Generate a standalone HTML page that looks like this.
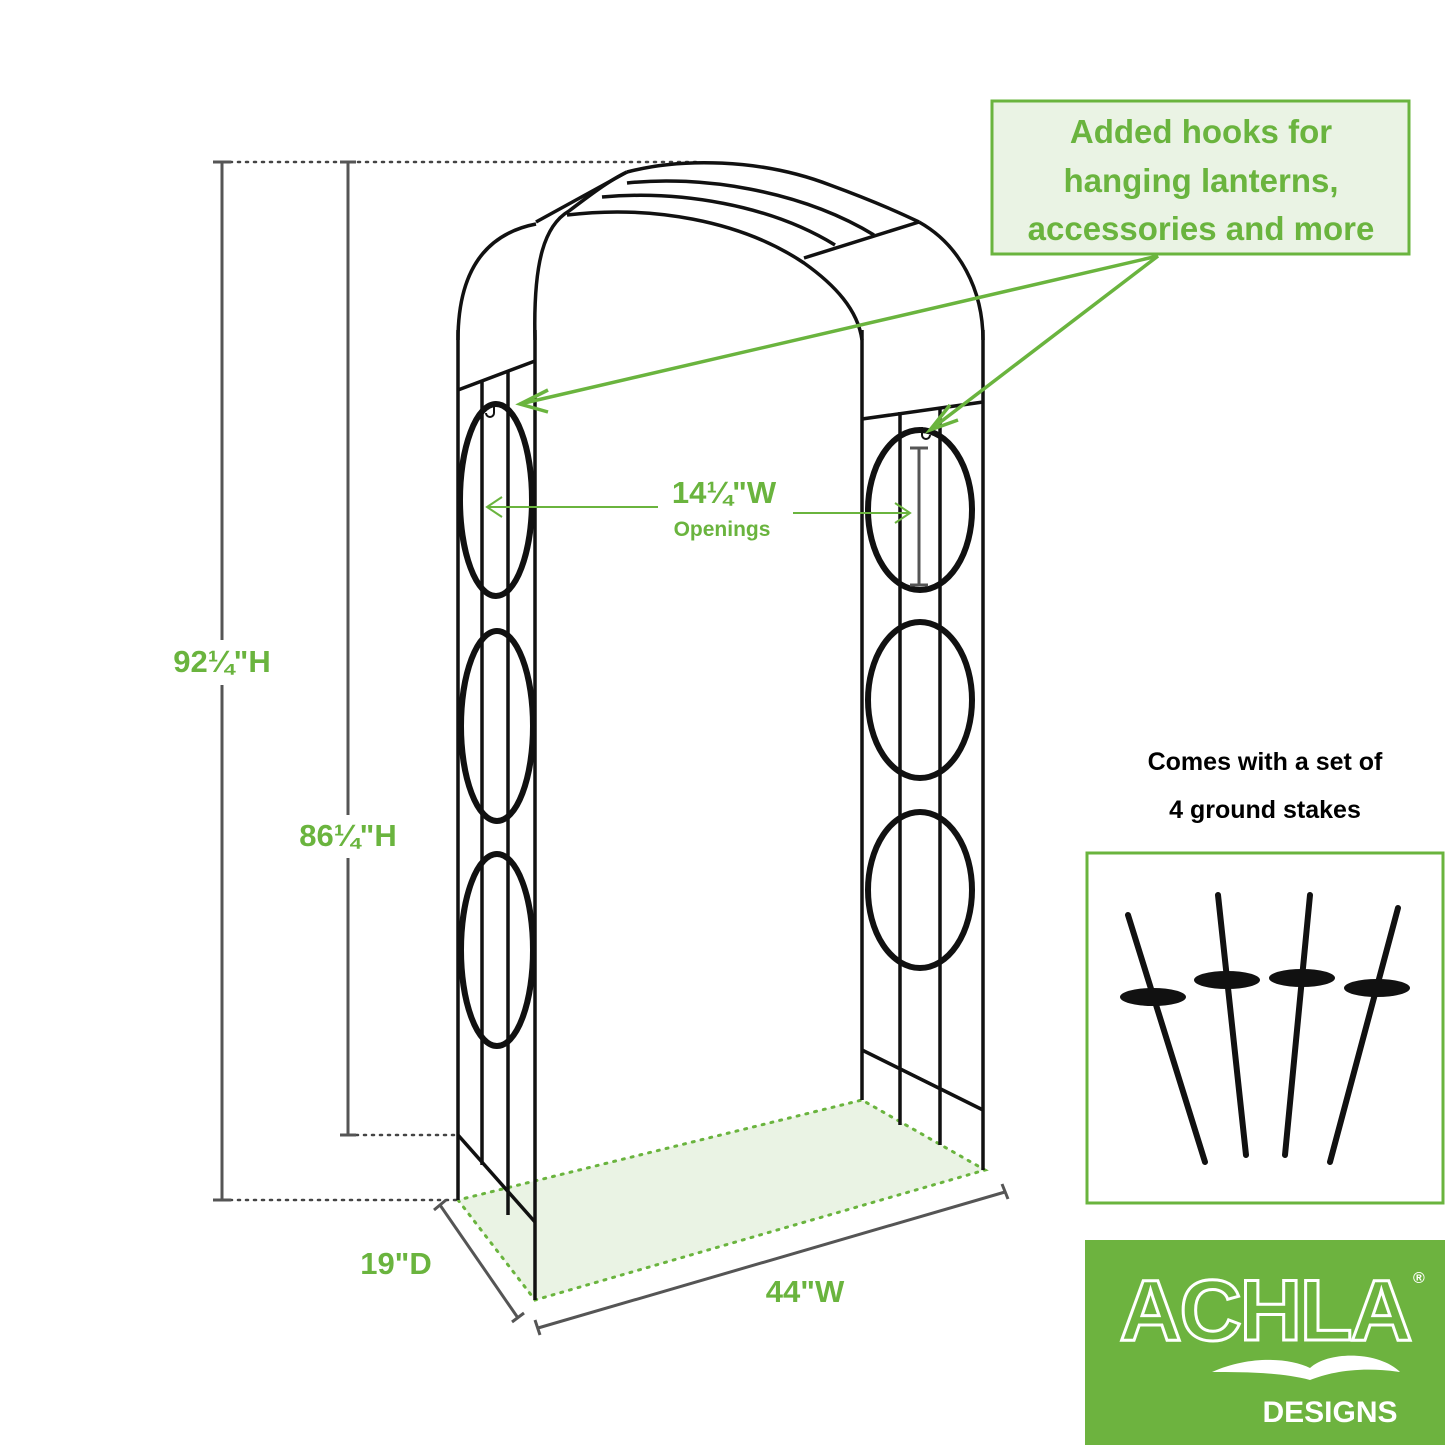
<!DOCTYPE html>
<html><head><meta charset="utf-8"><style>
html,body{margin:0;padding:0;background:#fff;}
svg{display:block;}
text{font-family:"Liberation Sans",Arial,sans-serif;font-weight:bold;}
</style></head><body>
<svg width="1445" height="1445" viewBox="0 0 1445 1445" xmlns="http://www.w3.org/2000/svg">
<polygon points="458,1200 535,1300 985,1170 862,1100" fill="#eaf3e4" stroke="#6ab43e" stroke-width="3" stroke-dasharray="2,7" stroke-linecap="round"/>
<g stroke="#444" stroke-width="2.5" stroke-dasharray="2,6" stroke-linecap="round">
<line x1="222" y1="162" x2="700" y2="162"/>
<line x1="348" y1="1135" x2="458" y2="1135"/>
<line x1="222" y1="1200" x2="458" y2="1200"/>
</g>
<g stroke="#555" stroke-width="3">
<line x1="222" y1="162" x2="222" y2="640"/><line x1="222" y1="685" x2="222" y2="1200"/>
<line x1="213" y1="162" x2="231" y2="162"/><line x1="213" y1="1200" x2="231" y2="1200"/>
<line x1="348" y1="162" x2="348" y2="815"/><line x1="348" y1="858" x2="348" y2="1135"/>
<line x1="340" y1="162" x2="356" y2="162"/><line x1="340" y1="1135" x2="356" y2="1135"/>
<line x1="440" y1="1205" x2="518" y2="1318"/><line x1="434" y1="1210" x2="446" y2="1200"/><line x1="512" y1="1322" x2="524" y2="1313"/>
<line x1="538" y1="1328" x2="1005" y2="1192"/><line x1="535" y1="1320" x2="540" y2="1335"/><line x1="1002" y1="1184" x2="1008" y2="1199"/>
</g>
<g fill="#6ab43e" font-size="31" text-anchor="middle">
<text x="222" y="672">92¼"H</text>
<text x="348" y="846">86¼"H</text>
<text x="396" y="1274">19"D</text>
<text x="805" y="1302">44"W</text>
<text x="724" y="503">14¼"W</text>
<text x="722" y="536" font-size="21">Openings</text>
</g>
<g fill="none" stroke="#111" stroke-width="3.5">
<line x1="458" y1="330" x2="458" y2="1200"/>
<line x1="535" y1="330" x2="535" y2="1300"/>
<line x1="482" y1="380" x2="482" y2="1165"/>
<line x1="508" y1="372" x2="508" y2="1215"/>
<line x1="458" y1="390" x2="535" y2="361"/>
<line x1="458" y1="1135" x2="535" y2="1222"/>
<line x1="862" y1="330" x2="862" y2="1100"/>
<line x1="983" y1="330" x2="983" y2="1170"/>
<line x1="900" y1="412" x2="900" y2="1125"/>
<line x1="940" y1="408" x2="940" y2="1145"/>
<line x1="862" y1="419" x2="983" y2="402"/>
<line x1="862" y1="1050" x2="983" y2="1110"/>
<path d="M458,340 C458,260 495,232 536,224"/>
<line x1="536" y1="222" x2="627" y2="172"/>
<path d="M535,340 C533,260 545,225 569,211 C590,195 610,180 627,172"/>
<path d="M627,172 C680,158 760,158 830,185 C860,196 890,208 919,222"/>
<path d="M919,222 C960,245 983,290 983,340"/>
<path d="M627,183 C700,175 800,190 874,235"/>
<path d="M602,197 C680,190 770,205 835,245"/>
<path d="M567,215 C650,205 740,220 804,263 C835,285 858,310 862,340"/>
<line x1="804" y1="258" x2="919" y2="222"/>
</g>
<g fill="none" stroke="#111" stroke-width="6">
<ellipse cx="496" cy="500" rx="36" ry="96"/>
<ellipse cx="497" cy="726" rx="36" ry="95"/>
<ellipse cx="497" cy="950" rx="36" ry="96"/>
<ellipse cx="920" cy="510" rx="52" ry="80"/>
<ellipse cx="920" cy="700" rx="52" ry="78"/>
<ellipse cx="920" cy="890" rx="52" ry="78"/>
</g>
<path d="M494,403 l0,10 a4,4 0 0 1 -8,0" fill="none" stroke="#111" stroke-width="2"/>
<path d="M922,427 l0,8 a4,4 0 0 0 8,0" fill="none" stroke="#111" stroke-width="2"/>
<g stroke="#555" stroke-width="3"><line x1="919" y1="448" x2="919" y2="585"/><line x1="910" y1="448" x2="928" y2="448"/><line x1="910" y1="585" x2="928" y2="585"/></g>
<g stroke="#6ab43e" stroke-width="2" fill="none">
<line x1="487" y1="507" x2="658" y2="507"/><polyline points="502,497 487,507 502,517"/>
<line x1="793" y1="513" x2="910" y2="513"/><polyline points="895,503 910,513 895,523"/>
</g>
<g stroke="#6ab43e" stroke-width="3.5" fill="none">
<line x1="1158" y1="256" x2="520" y2="404"/><polyline points="548,390 520,404 548,412"/>
<line x1="1158" y1="256" x2="930" y2="430"/><polyline points="950,405 930,430 958,420"/>
</g>
<rect x="992" y="101" width="417" height="153" fill="#eaf3e4" stroke="#6ab43e" stroke-width="3"/>
<g fill="#6ab43e" font-size="33" text-anchor="middle">
<text x="1201" y="143">Added hooks for</text>
<text x="1201" y="192">hanging lanterns,</text>
<text x="1201" y="240">accessories and more</text>
</g>
<g fill="#000" font-size="25" text-anchor="middle">
<text x="1265" y="770">Comes with a set of</text>
<text x="1265" y="818">4 ground stakes</text>
</g>
<rect x="1087" y="853" width="356" height="350" fill="#fff" stroke="#6ab43e" stroke-width="3"/>
<g stroke="#111" stroke-linecap="round">
<line x1="1128" y1="915" x2="1205" y2="1162" stroke-width="6"/>
<line x1="1218" y1="895" x2="1246" y2="1155" stroke-width="6"/>
<line x1="1310" y1="895" x2="1285" y2="1155" stroke-width="6"/>
<line x1="1398" y1="908" x2="1330" y2="1162" stroke-width="6"/>
</g>
<g fill="#111">
<ellipse cx="1153" cy="997" rx="33" ry="9"/>
<ellipse cx="1227" cy="980" rx="33" ry="9"/>
<ellipse cx="1302" cy="978" rx="33" ry="9"/>
<ellipse cx="1377" cy="988" rx="33" ry="9"/>
</g>
<rect x="1085" y="1240" width="360" height="205" fill="#6db33f"/>
<text x="1265" y="1340" fill="none" stroke="#fff" stroke-width="3" font-size="86" font-weight="normal" text-anchor="middle" letter-spacing="-2">ACHLA</text>
<text x="1413" y="1283" fill="#fff" font-size="16" font-weight="normal">®</text>
<path d="M1212,1372 C1250,1355 1290,1358 1310,1368 C1330,1350 1380,1352 1400,1372 C1360,1366 1330,1372 1310,1380 C1280,1372 1240,1372 1212,1372Z" fill="#fff"/>
<text x="1330" y="1422" fill="#fff" font-size="30" font-weight="normal" text-anchor="middle">DESIGNS</text>
</svg>
</body></html>
